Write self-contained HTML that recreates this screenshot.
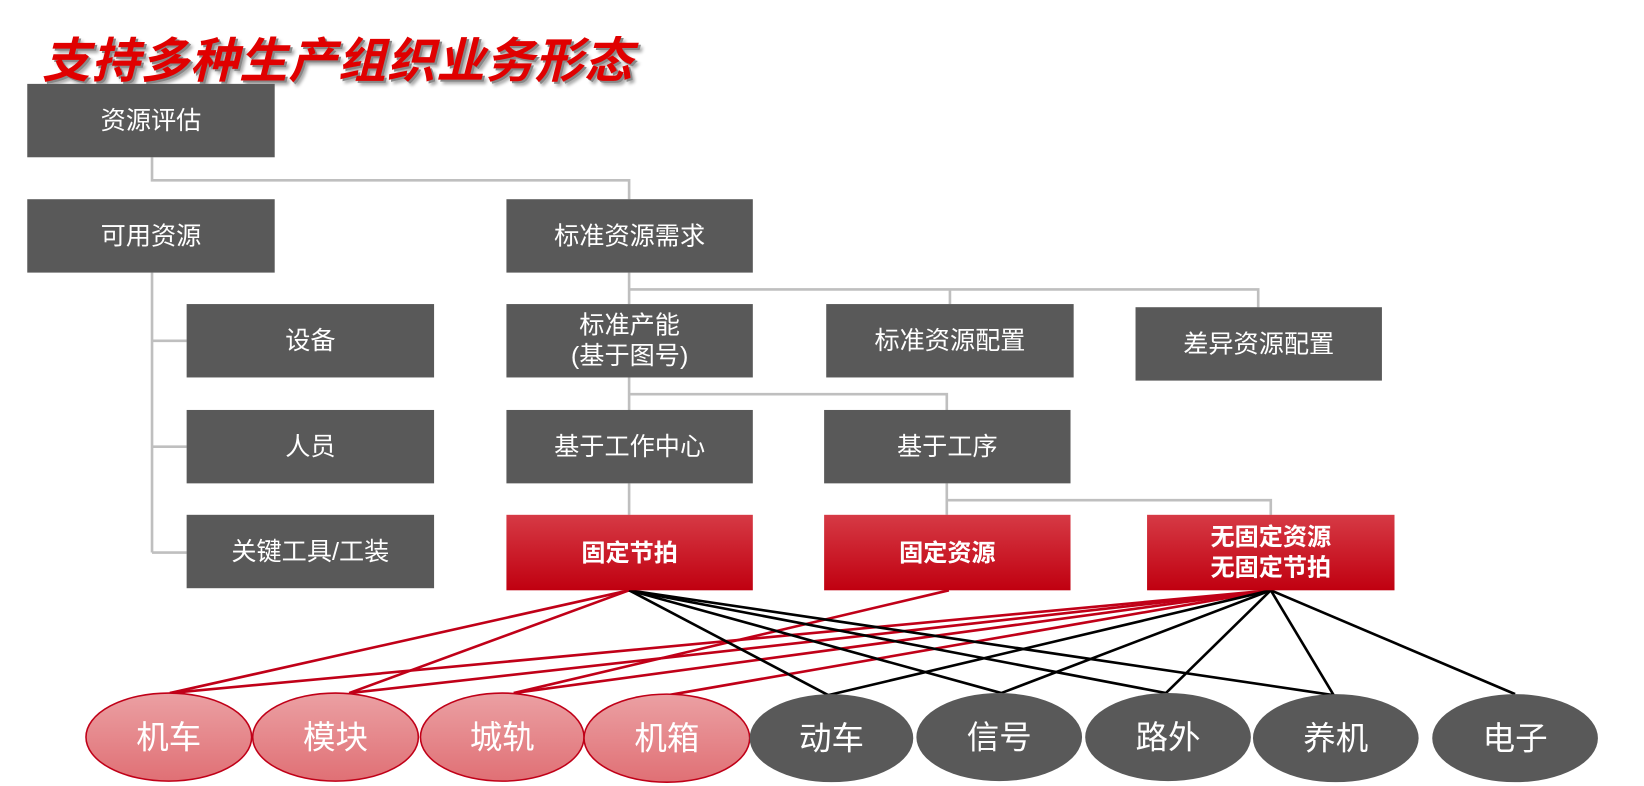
<!DOCTYPE html>
<html><head><meta charset="utf-8"><style>
body{margin:0;width:1644px;height:786px;background:#fff;position:relative;overflow:hidden;font-family:"Liberation Sans","Noto Sans CJK SC",sans-serif}
#w{position:absolute;left:0;top:0;width:1568px;height:750px;transform:scale(1.0485);transform-origin:0 0}
.b{position:absolute;background:#595959;color:#fff;font-size:24px;display:flex;align-items:center;justify-content:center;text-align:center;line-height:29px}
.r{background:linear-gradient(#d63a45,#c00010);font-weight:bold;font-size:23px}
.t{position:absolute;left:40px;top:22px;font-size:46px;font-weight:bold;font-style:italic;color:#e00000;text-shadow:2px 2px 0 #888,4px 4px 3px #aaa;letter-spacing:1px;white-space:nowrap}
svg{position:absolute;left:0;top:0}
</style></head><body><div id="w">
<svg width="1568" height="750">
<g stroke="#bfbfbf" stroke-width="2.5" fill="none">
<path d="M145 150V172H600V190M145 260V527M145 325H178M145 426H178M145 527H178M600 260V290M600 276H1200V293M906 276V290M600 360V391M600 376H903V391M600 461V491M903 461V491M903 477H1212V491"/>
</g>
<g stroke="#c00018" stroke-width="2.5">
<line x1="600" y1="563" x2="162" y2="661"/><line x1="600" y1="563" x2="333" y2="661"/>
<line x1="905" y1="563" x2="490" y2="661"/>
<line x1="1212" y1="563" x2="162" y2="661"/><line x1="1212" y1="563" x2="333" y2="661"/>
<line x1="1212" y1="563" x2="490" y2="661"/><line x1="1212" y1="563" x2="637" y2="663"/>
</g>
<g stroke="#000" stroke-width="2.5">
<line x1="600" y1="563" x2="790" y2="663"/><line x1="600" y1="563" x2="955" y2="661"/>
<line x1="600" y1="563" x2="1112" y2="661"/><line x1="600" y1="563" x2="1272" y2="663"/>
<line x1="1212" y1="563" x2="790" y2="663"/><line x1="1212" y1="563" x2="955" y2="661"/>
<line x1="1212" y1="563" x2="1112" y2="661"/><line x1="1212" y1="563" x2="1272" y2="663"/>
<line x1="1212" y1="563" x2="1445" y2="662"/>
</g>
<defs><linearGradient id="pg" x1="0" y1="0" x2="0" y2="1"><stop offset="0" stop-color="#eba0a3"/><stop offset="1" stop-color="#e07075"/></linearGradient></defs>
<g font-size="31" fill="#fff" text-anchor="middle" font-family="Liberation Sans,Noto Sans CJK SC,sans-serif">
<g stroke="#c00018" stroke-width="1.5" fill="url(#pg)">
<ellipse cx="161" cy="703" rx="79" ry="42"/><ellipse cx="320" cy="703" rx="79" ry="42"/>
<ellipse cx="479" cy="703" rx="78" ry="42"/><ellipse cx="636" cy="704" rx="79" ry="42"/>
</g>
<g fill="#595959">
<ellipse cx="793" cy="704" rx="78" ry="42"/><ellipse cx="953" cy="703" rx="79" ry="42"/>
<ellipse cx="1114" cy="703" rx="79" ry="42"/><ellipse cx="1274" cy="704" rx="79" ry="42"/>
<ellipse cx="1445" cy="704" rx="79" ry="42"/>
</g>
<text x="161" y="714">机车</text><text x="320" y="714">模块</text><text x="479" y="714">城轨</text><text x="636" y="715">机箱</text>
<text x="793" y="715">动车</text><text x="953" y="714">信号</text><text x="1114" y="714">路外</text><text x="1274" y="715">养机</text><text x="1445" y="715">电子</text>
</g>
</svg>
<div class="t">支持多种生产组织业务形态</div>
<div class="b" style="left:26px;top:80px;width:236px;height:70px">资源评估</div>
<div class="b" style="left:26px;top:190px;width:236px;height:70px">可用资源</div>
<div class="b" style="left:483px;top:190px;width:235px;height:70px">标准资源需求</div>
<div class="b" style="left:178px;top:290px;width:236px;height:70px">设备</div>
<div class="b" style="left:178px;top:391px;width:236px;height:70px">人员</div>
<div class="b" style="left:178px;top:491px;width:236px;height:70px">关键工具/工装</div>
<div class="b" style="left:483px;top:290px;width:235px;height:70px">标准产能<br>(基于图号)</div>
<div class="b" style="left:788px;top:290px;width:236px;height:70px">标准资源配置</div>
<div class="b" style="left:1083px;top:293px;width:235px;height:70px">差异资源配置</div>
<div class="b" style="left:483px;top:391px;width:235px;height:70px">基于工作中心</div>
<div class="b" style="left:786px;top:391px;width:235px;height:70px">基于工序</div>
<div class="b r" style="left:483px;top:491px;width:235px;height:72px">固定节拍</div>
<div class="b r" style="left:786px;top:491px;width:235px;height:72px">固定资源</div>
<div class="b r" style="left:1094px;top:491px;width:236px;height:72px">无固定资源<br>无固定节拍</div>
</div></body></html>
